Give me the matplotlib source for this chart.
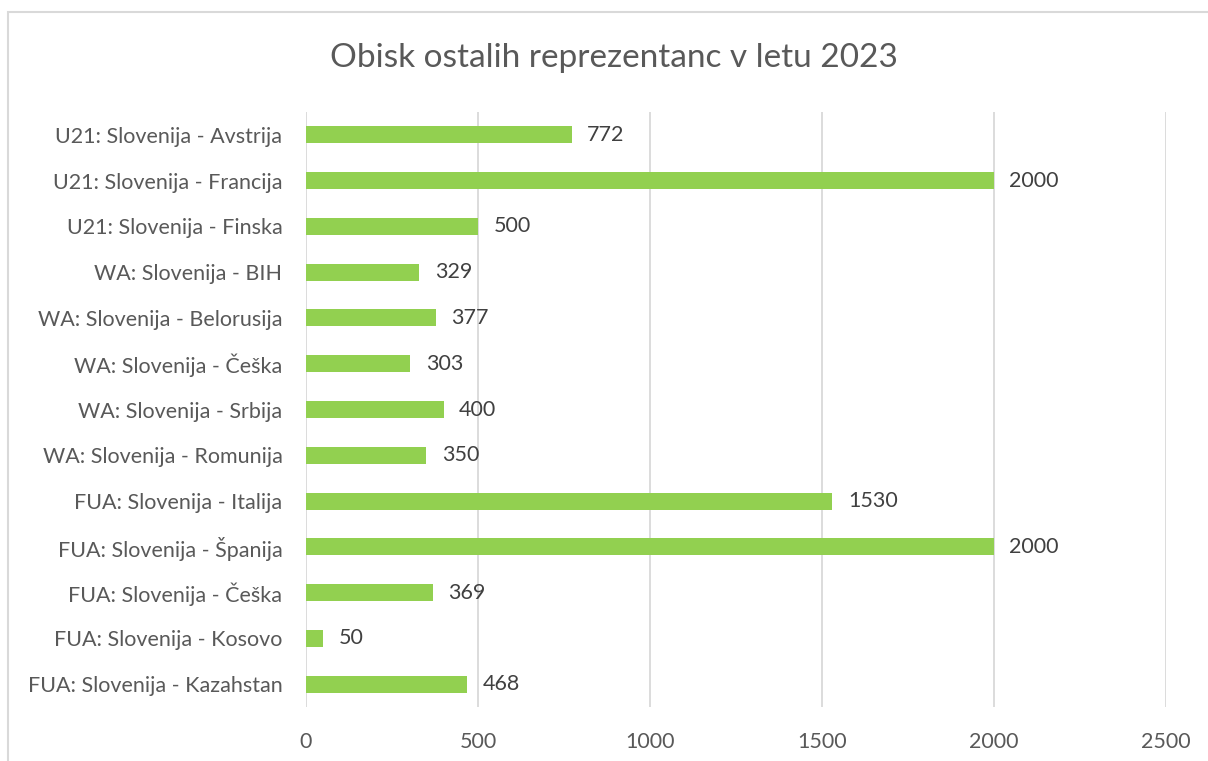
import matplotlib
matplotlib.use("Agg")
import matplotlib.pyplot as plt
from matplotlib.patches import Rectangle

categories = [
    "U21: Slovenija - Avstrija",
    "U21: Slovenija - Francija",
    "U21: Slovenija - Finska",
    "WA: Slovenija - BIH",
    "WA: Slovenija - Belorusija",
    "WA: Slovenija - Češka",
    "WA: Slovenija - Srbija",
    "WA: Slovenija - Romunija",
    "FUA: Slovenija - Italija",
    "FUA: Slovenija - Španija",
    "FUA: Slovenija - Češka",
    "FUA: Slovenija - Kosovo",
    "FUA: Slovenija - Kazahstan",
]
values = [772, 2000, 500, 329, 377, 303, 400, 350, 1530, 2000, 369, 50, 468]
xticks = [0, 500, 1000, 1500, 2000, 2500]
title = "Obisk ostalih reprezentanc v letu 2023"

plt.rcParams['font.family'] = ['Lato', 'DejaVu Sans']

fig = plt.figure(figsize=(12.08, 7.61), dpi=100)
ax = fig.add_axes([306/1208, 1-707/761, (1166-306)/1208, (707-112)/761])

n = len(categories)
ypos = list(range(n))
ax.barh(ypos, values, height=0.37, color="#92D050", zorder=3)
ax.set_ylim(n - 0.5, -0.5)
ax.set_xlim(0, 2500)
ax.set_xticks(xticks)
ax.set_xticklabels([str(t) for t in xticks], fontsize=15.5, color="#595959")
ax.set_yticks(ypos)
ax.set_yticklabels(categories, fontsize=15.5, color="#595959")
ax.tick_params(axis='both', length=0)
ax.tick_params(axis='x', pad=18)
ax.tick_params(axis='y', pad=17)
ax.grid(axis='x', color="#D9D9D9", linewidth=1.3, zorder=0)
for s in ax.spines.values():
    s.set_visible(False)

for y, v in zip(ypos, values):
    ax.text(v + 45, y, str(v), va='center', ha='left', fontsize=15.5, color="#404040")

fig.text(614/1208, 1-58/761, title, ha='center', va='center', fontsize=24, color="#595959")

fig.patches.append(Rectangle((8/1208, -0.1), 1.2, 1 - 12/761 + 0.1, transform=fig.transFigure,
                             fill=False, edgecolor="#D9D9D9", linewidth=1.5))

fig.savefig("out.png", dpi=100)
